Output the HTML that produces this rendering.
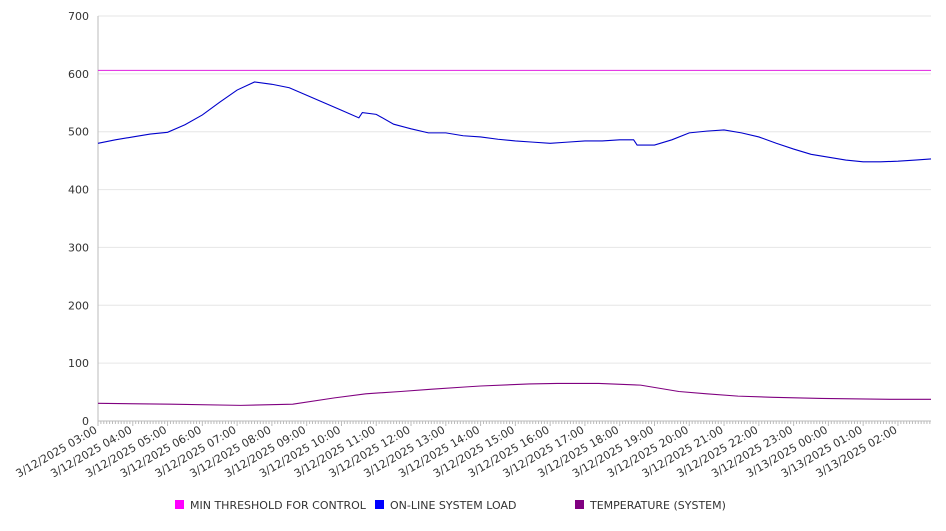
<!DOCTYPE html>
<html><head><meta charset="utf-8"><style>
body{margin:0;background:#fff;}
svg text{font-family:"DejaVu Sans","Liberation Sans",sans-serif;font-size:11px;fill:#333;}
</style></head><body>
<svg id="chart" width="946" height="526" xmlns="http://www.w3.org/2000/svg">
<g id="grid"></g>
<g id="axes"></g>
<g id="series"></g>
<g id="legend"></g>
</svg>
<script>
const yTicks=[0,100,200,300,400,500,600,700];
const xLabels=["3/12/2025 03:00","3/12/2025 04:00","3/12/2025 05:00","3/12/2025 06:00","3/12/2025 07:00","3/12/2025 08:00","3/12/2025 09:00","3/12/2025 10:00","3/12/2025 11:00","3/12/2025 12:00","3/12/2025 13:00","3/12/2025 14:00","3/12/2025 15:00","3/12/2025 16:00","3/12/2025 17:00","3/12/2025 18:00","3/12/2025 19:00","3/12/2025 20:00","3/12/2025 21:00","3/12/2025 22:00","3/12/2025 23:00","3/13/2025 00:00","3/13/2025 01:00","3/13/2025 02:00"];
const threshold=606;
const loadHours=[0,0.5,1,1.5,2,2.5,3,3.5,4,4.5,5,5.5,6,6.5,7,7.5,7.6,8,8.5,9,9.5,10,10.5,11,11.5,12,12.5,13,13.5,14,14.5,15,15.4,15.5,16,16.5,17,17.5,18,18.5,19,19.5,20,20.5,21,21.5,22,22.5,23,23.5,23.95];
const loadValues=[480,486,491,496,499,512,529,551,572,586,582,576,563,550,537,524,533,530,513,505,498,498,493,491,487,484,482,480,482,484,484,486,486,477,477,486,498,501,503,498,491,480,470,461,456,451,448,448,449,451,453];
const tempHours=[0,2.1,4.1,5.6,6.8,7.7,8.7,9.6,10.6,11,12.4,13.2,14.4,15.6,16.7,17.5,18.4,19.4,20.8,22.8,23.95];
const tempValues=[30.5,29,27,29,40,47,51,55,59,60.5,64,65,65,62,51,47,43,41,39,37.5,37.5];
const X0=98,X1=931,Y0=421,Y1=16,HMAX=23.95;
const xs=h=>X0+(X1-X0)*h/HMAX;
const ys=v=>Y0-(Y0-Y1)*v/700;
const NS="http://www.w3.org/2000/svg";
function mk(t,a,p){const e=document.createElementNS(NS,t);for(const k in a)e.setAttribute(k,a[k]);p.appendChild(e);return e;}
const grid=document.getElementById('grid'),axes=document.getElementById('axes'),series=document.getElementById('series'),legend=document.getElementById('legend');
yTicks.forEach(v=>{
 const l=mk('line',{x1:X0,x2:X1,y1:ys(v),y2:ys(v),stroke:v===0?'#bbb':'#e6e6e6','stroke-width':1},grid);
 
 
 const t=mk('text',{x:89,y:ys(v)+4,'text-anchor':'end'},axes);
 t.textContent=v;
 
 
});
const ya=mk('line',{x1:X0,x2:X0,y1:Y1,y2:Y0,stroke:'#bbb'},axes);


for(let m=0;m<=HMAX*60;m+=5){
 const tk=mk('line',{x1:xs(m/60),x2:xs(m/60),y1:Y0,y2:Y0+(m%60===0?5:3),stroke:'#bbb'},axes);
 
 
}
xLabels.forEach((s,i)=>{
 const x=xs(i),y=Y0+11;
 const t=mk('text',{x:x,y:y,'text-anchor':'end',transform:`rotate(-30 ${x} ${y})`},axes);
 t.textContent=s;
 
 
});
const th=mk('line',{x1:X0,x2:X1,y1:ys(threshold),y2:ys(threshold),stroke:'#e020e0','stroke-width':1},series);


const lp=mk('polyline',{points:loadHours.map((h,i)=>xs(h)+','+ys(loadValues[i])).join(' '),fill:'none',stroke:'#0000cc','stroke-width':1.1},series);


const tp=mk('polyline',{points:tempHours.map((h,i)=>xs(h)+','+ys(tempValues[i])).join(' '),fill:'none',stroke:'#800080','stroke-width':1.1},series);


[["MIN THRESHOLD FOR CONTROL","#ff00ff",175],["ON-LINE SYSTEM LOAD","#0000ff",375],["TEMPERATURE (SYSTEM)","#800080",575]].forEach(e=>{
 const r=mk('rect',{x:e[2],y:500,width:9,height:9,fill:e[1]},legend);
 
 
 const t=mk('text',{x:e[2]+15,y:509},legend);
 t.textContent=e[0];
 
 
});
</script>
</body></html>
